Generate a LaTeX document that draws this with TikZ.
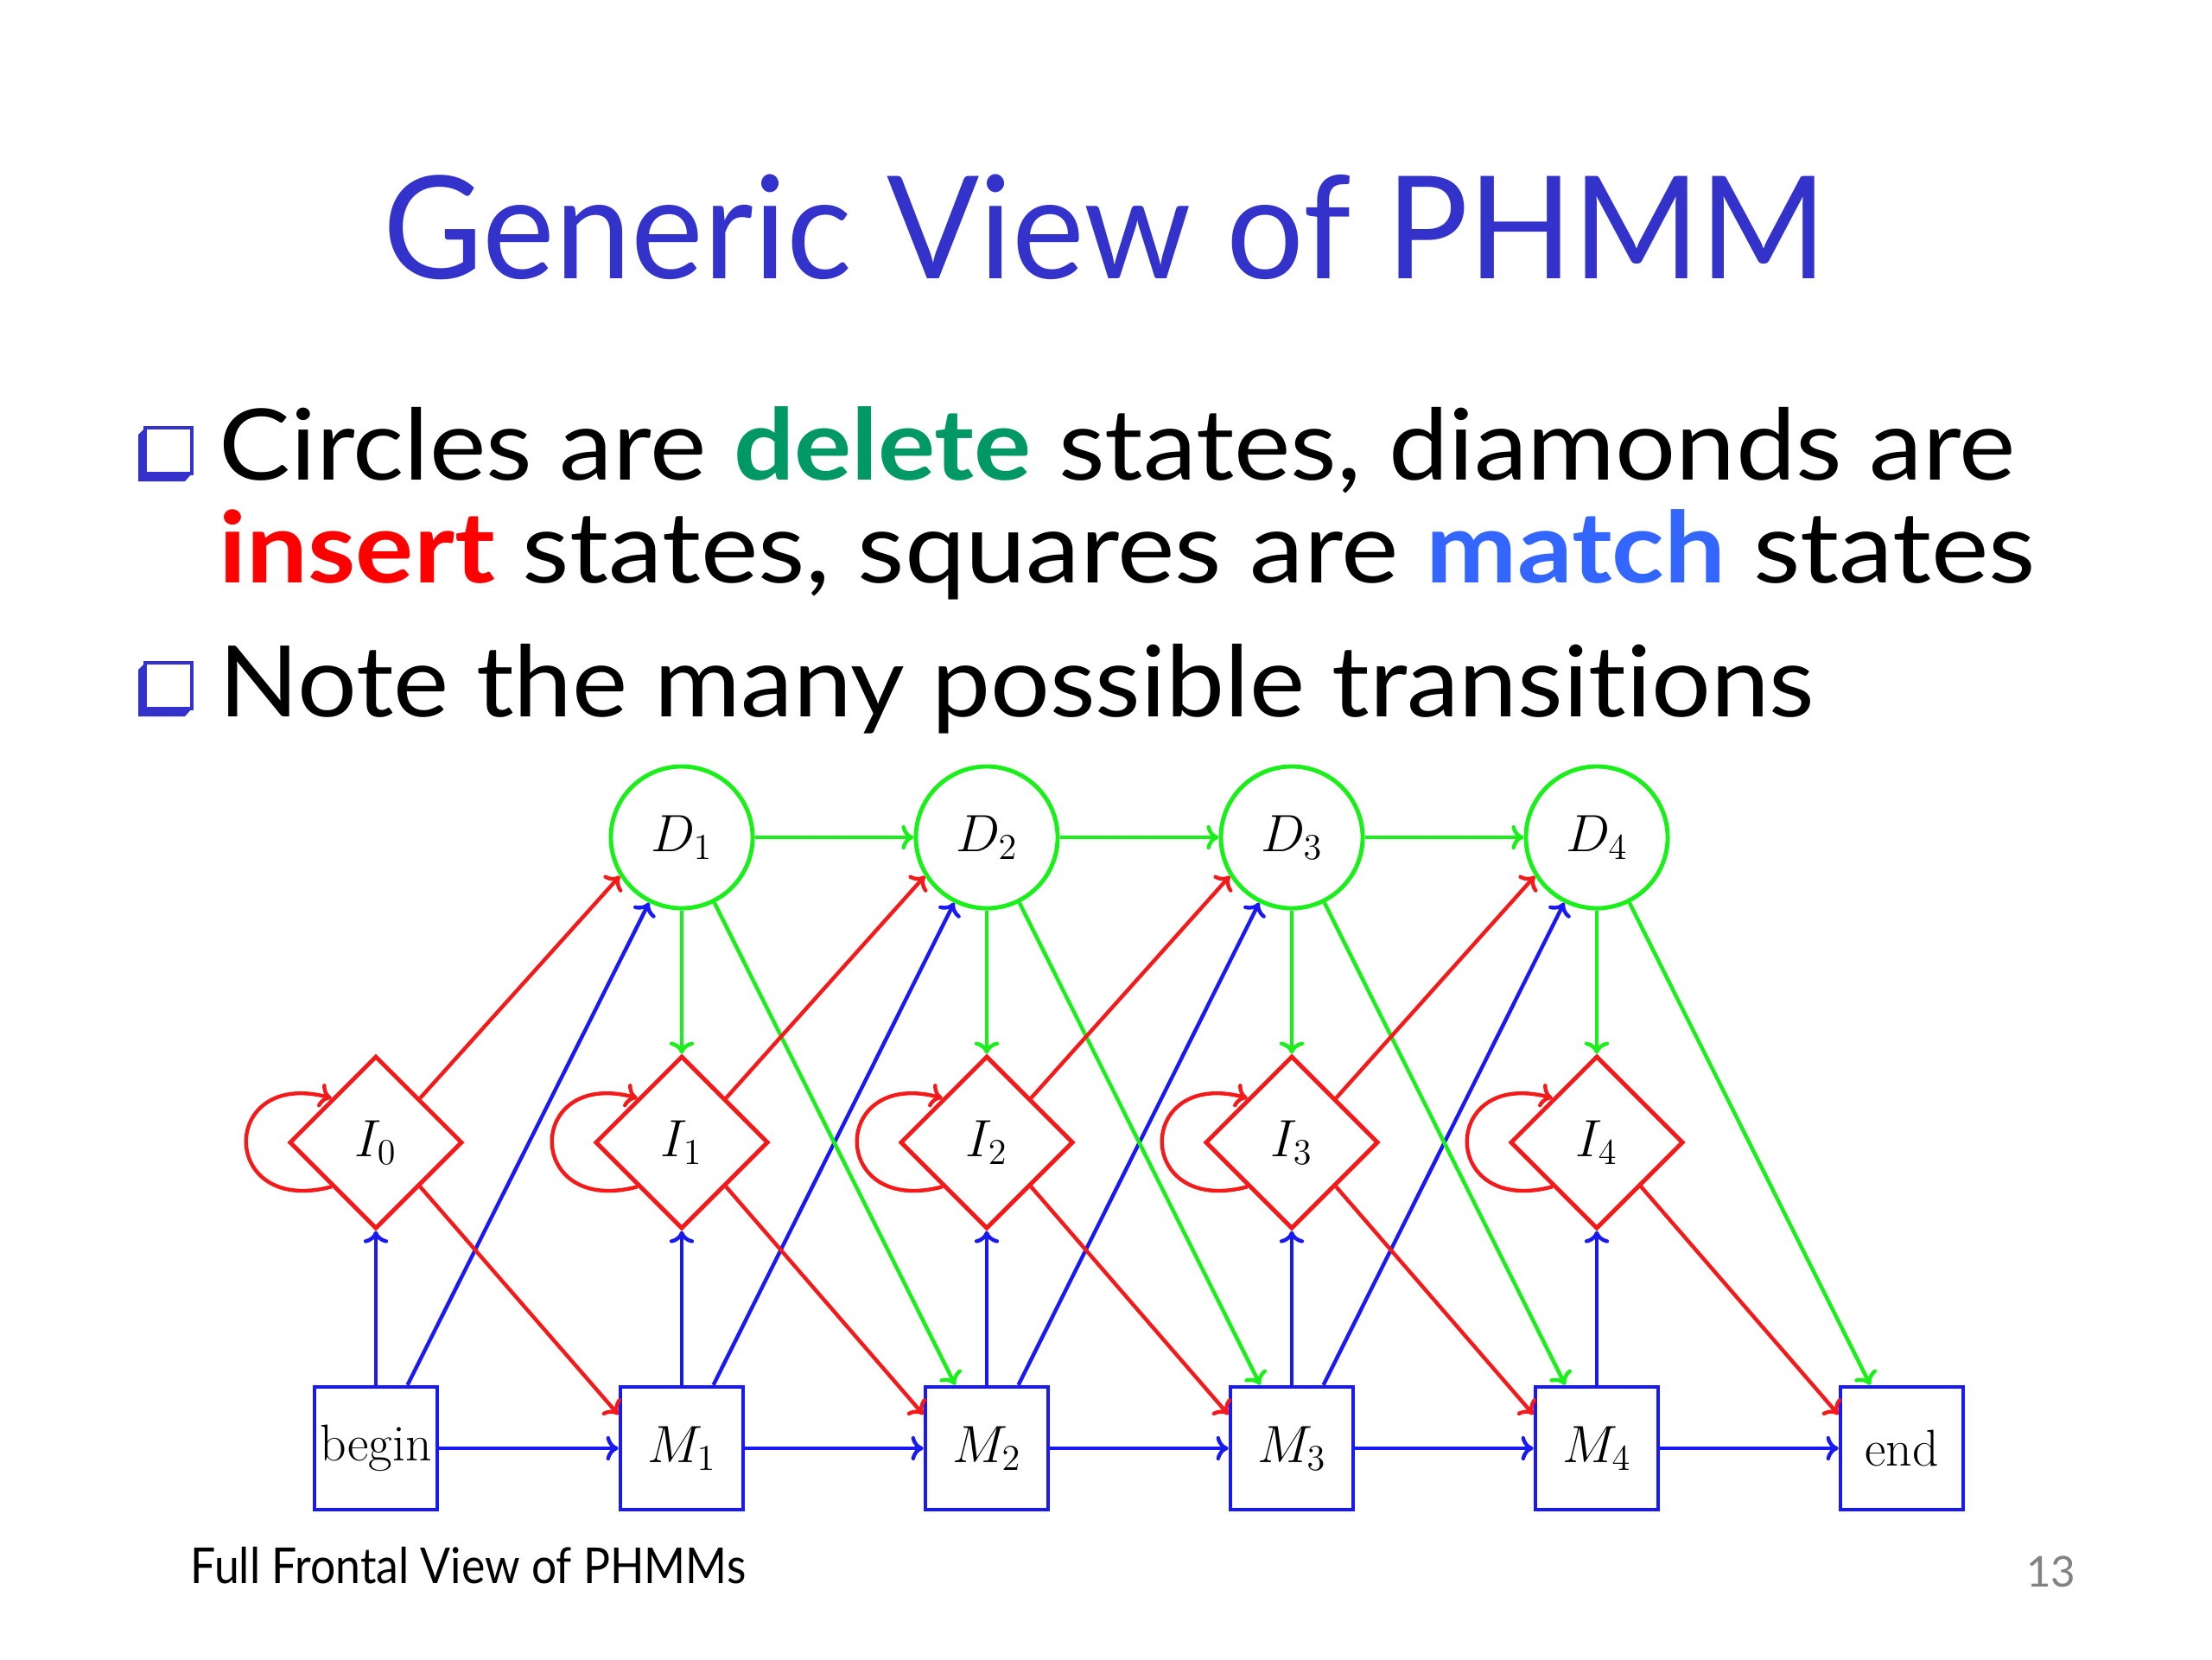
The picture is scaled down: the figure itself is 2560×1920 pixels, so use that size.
\documentclass[tikz,border=0pt]{standalone}
\usepackage[no-math]{fontspec}
\setmainfont{Lato}[Ligatures=NoCommon]
\newfontfamily\lmr{Latin Modern Roman}
\usepackage{graphicx}
\usetikzlibrary{shapes.geometric,arrows.meta}
\DeclareMathSizes{17}{17}{12.5}{10}
\definecolor{titleblue}{RGB}{51,51,204}
\definecolor{delgreen}{RGB}{0,153,102}
\definecolor{insred}{RGB}{255,0,0}
\definecolor{matblue}{RGB}{51,102,255}
\definecolor{dgreen}{RGB}{25,240,25}
\definecolor{ired}{RGB}{245,25,25}
\definecolor{mblue}{RGB}{25,25,245}
\definecolor{pagegray}{RGB}{130,130,130}
\newcommand\diagfont{\fontsize{17}{20}\selectfont}
\begin{document}
\begin{tikzpicture}[x=0.01cm,y=0.01cm,
  dstate/.style={circle,draw=dgreen,line width=1.4pt,minimum size=1.64cm,inner sep=0pt,font=\diagfont},
  istate/.style={diamond,aspect=1,draw=ired,line width=1.4pt,minimum width=2cm,minimum height=2cm,inner sep=0pt,font=\diagfont},
  mstate/.style={rectangle,draw=mblue,line width=1.3pt,minimum size=1.42cm,inner sep=0pt,font=\lmr\diagfont},
  tipstyle/.style={-{To[length=4pt,width=8pt]}},
  gedge/.style={tipstyle,draw=dgreen,line width=1.25pt},
  redge/.style={tipstyle,draw=ired,line width=1.25pt},
  bedge/.style={tipstyle,draw=mblue,line width=1.25pt},
  txt/.style={inner sep=0pt,anchor=base west},
  bulletbox/.style={draw=titleblue,line width=0.9pt,fill=white},
]
\useasboundingbox[fill=white] (0,0) rectangle (2560,-1920);

% title
\node[inner sep=0pt,anchor=base] (title) at (1279,-322)
  {\resizebox{16.70cm}{\height}{\fontsize{47}{56}\selectfont\color{titleblue}Generic View of PHMM}};

% bullets
\foreach \t in {495,767}{
  \fill[titleblue] (160,-\t-8) -- (168,-\t) -- (168,-\t-53) -- (222,-\t-53) -- (214,-\t-62) -- (160,-\t-62) -- cycle;
  \draw[bulletbox] (168,-\t) rectangle (222,-\t-53);
}
\node[txt] (l1) at (253,-555) {\resizebox{20.78cm}{\height}{\fontsize{32.5}{39}\selectfont Circles are {\bfseries\color{delgreen}delete} states, diamonds are}};
\node[txt] (l2) at (253,-674) {\resizebox{21.01cm}{\height}{\fontsize{32.5}{39}\selectfont {\bfseries\color{insred}insert} states, squares are {\bfseries\color{matblue}match} states}};
\node[txt] (l3) at (253,-829) {\resizebox{18.45cm}{\height}{\fontsize{32.5}{39}\selectfont Note the many possible transitions}};

% caption and page number
\node[txt] (cap) at (220,-1832) {\resizebox{6.42cm}{\height}{\fontsize{16.3}{20}\selectfont Full Frontal View of PHMMs}};
\node[inner sep=0pt,anchor=base east,text=pagegray] (page) at (2403,-1836) {\fontsize{14}{17}\selectfont 13};

% states
\node[mstate] (M0) at (435,-1676) {begin};
\node[istate] (I0) at (435,-1322) {$I_0$};
\foreach \i/\x in {1/789,2/1142,3/1495,4/1848}{
  \node[dstate] (D\i) at (\x,-969) {$D_\i$};
  \node[istate] (I\i) at (\x,-1322) {$I_\i$};
  \node[mstate] (M\i) at (\x,-1676) {$M_\i$};
}
\node[mstate] (M5) at (2201,-1676) {end};

% match transitions (blue)
\foreach \a/\b in {0/1,1/2,2/3,3/4,4/5} \draw[bedge] (M\a) -- (M\b);
\foreach \i in {0,...,4} \draw[bedge] (M\i) -- (I\i);
\foreach \a/\b in {0/1,1/2,2/3,3/4} \draw[bedge] (M\a) -- (D\b);

% delete transitions (green)
\foreach \a/\b in {1/2,2/3,3/4} \draw[gedge] (D\a) -- (D\b);
\foreach \i in {1,...,4} \draw[gedge] (D\i) -- (I\i);
\foreach \a/\b in {1/2,2/3,3/4,4/5} \draw[gedge] (D\a) -- (M\b);

% insert transitions (red)
\foreach \a/\b in {0/1,1/2,2/3,3/4} \draw[redge] (I\a.north east) -- (D\b.212);
\foreach \a/\b in {0/1,1/2,2/3,3/4,4/5} \draw[redge] (I\a.south east) -- (M\b.152);
\foreach \i in {0,...,4} \draw[redge] (I\i.south west) to[out=195,in=165,looseness=3.4] (I\i.north west);
\end{tikzpicture}
\end{document}
